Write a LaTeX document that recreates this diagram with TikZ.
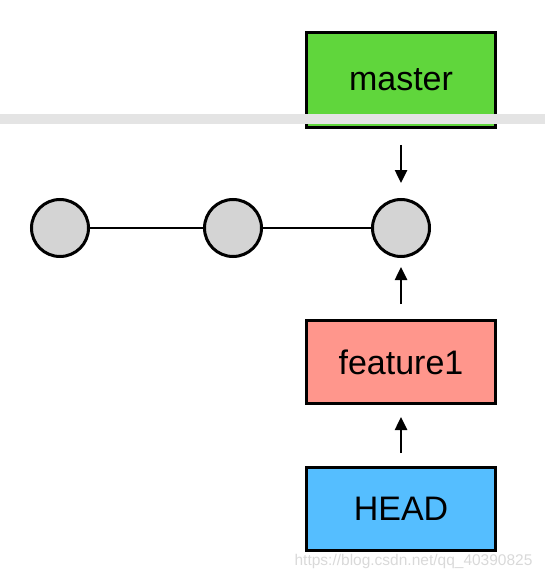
\documentclass[tikz,border=0pt]{standalone}
\usepackage{fontspec}
\setmainfont{Liberation Sans}
\usepackage{tikz}
\usetikzlibrary{arrows.meta,positioning,calc}
\definecolor{mastergreen}{RGB}{96,214,60}
\definecolor{featurepink}{RGB}{255,150,140}
\definecolor{headblue}{RGB}{85,190,255}
\definecolor{commitgray}{RGB}{212,212,212}
\definecolor{bandgray}{RGB}{228,228,228}
\tikzset{
    branch/.style={
        rectangle,
        draw,
        line width=3pt,
        minimum width=189pt,
        minimum height=83pt,
        inner sep=0pt,
        font=\fontsize{34}{36}\selectfont
    },
    commit/.style={
        circle,
        draw,
        fill=commitgray,
        line width=3pt,
        minimum size=57pt,
        inner sep=0pt
    },
    pointer/.style={
        line width=2.5pt,
        -{Triangle[length=13pt,width=12pt]}
    }
}

\begin{document}
\begin{tikzpicture}[x=1pt, y=-1pt]
    \useasboundingbox (0,0) rectangle (545,580);

    % commits
    \node (c1) [commit] at (60,228) {};
    \node (c2) [commit, right=113pt of c1] {};
    \node (c3) [commit, right=108pt of c2] {};
    \draw [line width=2.5pt] (c1) -- (c2);
    \draw [line width=2.5pt] (c2) -- (c3);

    % branches
    \node (master) [branch, fill=mastergreen, minimum height=95pt, above=69pt of c3] {master};
    \node (feature) [branch, fill=featurepink, below=61pt of c3] {feature1};
    \node (head) [branch, fill=headblue, below=61pt of feature] {HEAD};

    \draw [pointer, shorten <=16pt, shorten >=15pt] (master) -- (c3);
    \draw [pointer, shorten <=15pt, shorten >=9pt] (feature) -- (c3);
    \draw [pointer, shorten <=13pt, shorten >=12pt] (head) -- (feature);

    % video band across the top
    \fill [bandgray] (0,114) rectangle (545,124);

    \node (mark) [anchor=east, text=gray!30, font=\fontsize{15.5}{16}\selectfont] at (536,561) {https://blog.csdn.net/qq\_40390825};
\end{tikzpicture}
\end{document}
